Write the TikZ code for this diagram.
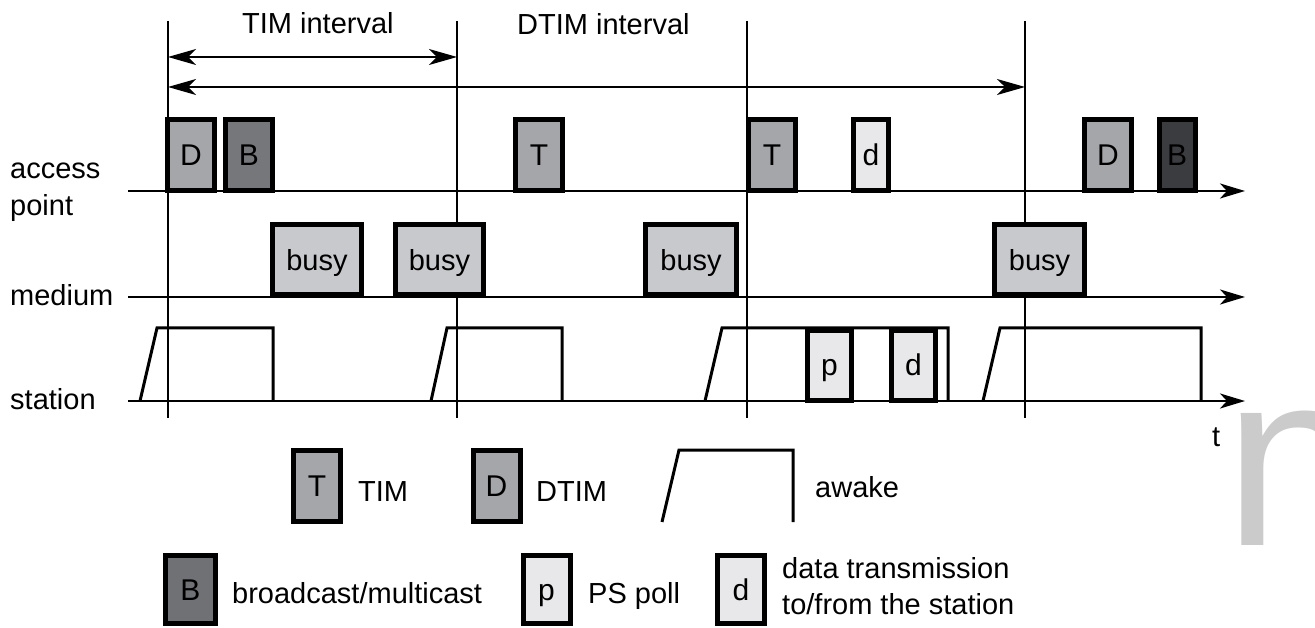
\documentclass[tikz,border=0pt]{standalone}
\usepackage{fontspec}
\setmainfont{Liberation Sans}
\usetikzlibrary{positioning,arrows.meta}
\definecolor{timgray}{HTML}{A5A6AA}
\definecolor{bcgray}{HTML}{76777B}
\definecolor{bcdark}{HTML}{3B3C40}
\definecolor{busygray}{HTML}{C8C9CD}
\definecolor{pollgray}{HTML}{E8E8EA}
\definecolor{wmgray}{HTML}{CBCBCB}

\begin{document}
\begin{tikzpicture}[x=1pt, y=-1pt, font=\fontsize{29}{35}\selectfont,
    pkt/.style = {draw, line width=5pt, inner sep=0pt, minimum width=47pt, minimum height=71pt, text height=21pt, text depth=0pt, font=\fontsize{30}{35}\selectfont},
    tim/.style = {pkt, fill=timgray},
    bc/.style = {pkt, fill=bcgray},
    light/.style = {pkt, fill=pollgray},
    busy/.style = {pkt, fill=busygray, minimum width=89pt, minimum height=70pt, font=\fontsize{29}{35}\selectfont},
    lbl/.style = {anchor=base west, inner sep=0pt},
    timeline/.style = {line width=2.5pt, -{Stealth[length=25pt, width=15pt, inset=7pt]}},
    interval/.style = {line width=1.3pt, {Stealth[length=28pt, width=16pt, inset=8pt]}-{Stealth[length=28pt, width=16pt, inset=8pt]}},
    awake/.style = {line width=3pt},
    vline/.style = {line width=1.5pt}]
    \useasboundingbox (0,0) rectangle (1315,628);

    % beacon marks
    \foreach \x/\n in {168/1, 457/2, 747/3, 1025/4}
        \draw[vline] (\x,21) coordinate (top\n) -- (\x,418) coordinate (bot\n);

    % intervals
    \node[lbl] (timlab) at (242,34) {TIM interval};
    \node[lbl] (dtimlab) at (517,35) {DTIM interval};
    \coordinate (i1) at (168,57);
    \coordinate (i2) at (457,57);
    \coordinate (j1) at (168,87);
    \coordinate (j4) at (1025,87);
    \draw[interval] (i1) -- (i2);
    \draw[interval] (j1) -- (j4);

    % rows
    \node[lbl] (ap1) at (10,179) {access};
    \node[lbl] (ap2) at (10,216) {point};
    \node[lbl] (med) at (10,306) {medium};
    \node[lbl] (sta) at (10,409) {station};
    \node[lbl] (t) at (1212,446) {t};

    % station awake
    \draw[awake] (140,401) -- (157,328) -- (273,328) -- (273,401);
    \draw[awake] (431,401) -- (447,328) -- (562,328) -- (562,401);
    \draw[awake] (705,401) -- (722,328) -- (948,328) -- (948,401);
    \draw[awake] (983,401) -- (1000,328) -- (1201,328) -- (1201,401);

    \coordinate (apL) at (128,191);
    \coordinate (apR) at (1245,191);
    \coordinate (medL) at (128,297);
    \coordinate (medR) at (1245,297);
    \coordinate (staL) at (128,401);
    \coordinate (staR) at (1245,401);
    \draw[timeline] (apL) -- (apR);
    \draw[timeline] (medL) -- (medR);
    \draw[timeline] (staL) -- (staR);

    % access point
    \node[tim] (D1) at (191,155) {D};
    \node[bc] (B1) at (249,155) {B};
    \node[tim] (T1) at (539,155) {T};
    \node[tim] (T2) at (772,155) {T};
    \node[light, minimum width=35pt] (d1) at (871,155) {d};
    \node[tim] (D2) at (1108,155) {D};
    \node[bc, fill=bcdark, minimum width=36pt] (B2) at (1177,155) {B};

    % medium
    \node[busy] (busy1) at (317,260) {busy};
    \node[busy, minimum width=88pt] (busy2) at (439.5,260) {busy};
    \node[busy, minimum width=91pt] (busy3) at (691,260) {busy};
    \node[busy, minimum width=90pt] (busy4) at (1039.5,260) {busy};

    % station
    \node[light, minimum width=44pt, minimum height=70pt] (p1) at (829.5,365.5) {p};
    \node[light, minimum width=44pt, minimum height=70pt] (d2) at (913.5,365.5) {d};

    % legend
    \node[tim] (legT) at (317,486) {T};
    \node[lbl] (legTtxt) at (358,501) {TIM};
    \node[tim] (legD) at (496.5,486) {D};
    \node[lbl] (legDtxt) at (536,501) {DTIM};
    \draw[awake] (662,522) -- (679,450) -- (793,450) -- (793,522);
    \node[lbl] (legAtxt) at (815,497) {awake};
    \node[bc, fill=bcgray!95!black, minimum width=50pt, minimum height=68pt] (legB) at (190.5,589.5) {B};
    \node[lbl] (legBtxt) at (232,603) {broadcast/multicast};
    \node[light, minimum height=68pt] (legp) at (546.5,589.5) {p};
    \node[lbl] (legptxt) at (588,603) {PS poll};
    \node[light, minimum height=68pt] (legd) at (741,589.5) {d};
    \node[lbl] (legdtxt1) at (782,578) {data transmission};
    \node[lbl] (legdtxt2) at (782,614) {to/from the station};

    \node[anchor=base west, inner sep=0pt, text=wmgray, font=\fontsize{250}{250}\selectfont] (wm) at (1224,545) {n};
\end{tikzpicture}
\end{document}
